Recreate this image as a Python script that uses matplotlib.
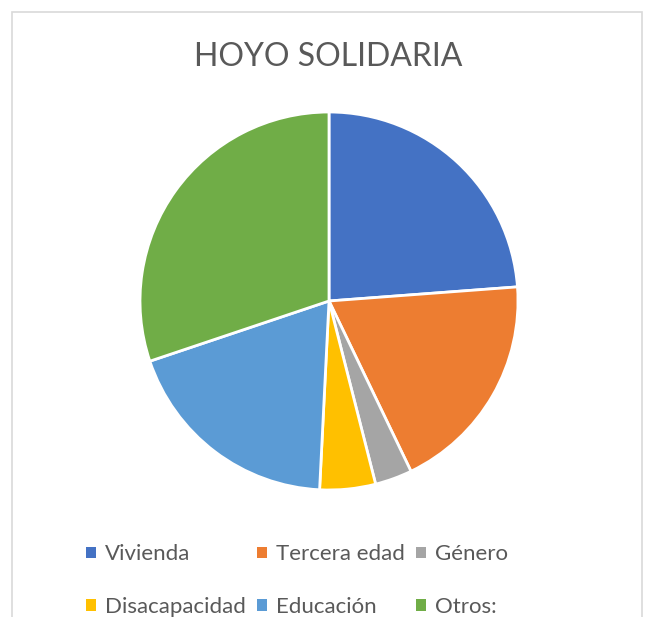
import matplotlib.pyplot as plt
from matplotlib.patches import Patch, Rectangle

# Data
categories = ['Vivienda', 'Tercera edad', 'Género', 'Disacapacidad', 'Educación', 'Otros:']
values = [15, 12, 2, 3, 12, 19]
colors = ['#4472C4', '#ED7D31', '#A5A5A5', '#FFC000', '#5B9BD5', '#70AD47']
title = 'HOYO SOLIDARIA'

plt.rcParams['font.family'] = ['Lato', 'DejaVu Sans']
text_color = '#595959'

W, H = 646, 617
fig = plt.figure(figsize=(W / 100, H / 100), dpi=100)

# chart frame (bottom edge falls outside the image)
fig.patches.append(Rectangle((11.5 / W, -0.1), 630 / W, 1.1 - 12.5 / H,
                             transform=fig.transFigure, fill=False,
                             edgecolor='#d9d9d9', linewidth=1.2))

# pie
cx, cy, r = 329, 301, 189
ax = fig.add_axes([(cx - r) / W, (H - cy - r) / H, 2 * r / W, 2 * r / H])
ax.pie(values, colors=colors, startangle=90, counterclock=False,
       wedgeprops=dict(edgecolor='white', linewidth=2))
ax.set_xlim(-1, 1)
ax.set_ylim(-1, 1)
ax.set_aspect('equal')
ax.axis('off')

fig.text(328 / W, 1 - 57 / H, title, ha='center', va='center',
         fontsize=23, color=text_color, fontweight='normal')

# legend filled row by row (matplotlib fills columns first)
handles = [Patch(facecolor=c, edgecolor='none') for c in colors]
order = [0, 3, 1, 4, 2, 5]
fig.legend([handles[i] for i in order], [categories[i] for i in order],
           loc='center left', bbox_to_anchor=(86 / W, 1 - 580.5 / H),
           ncol=3, frameon=False, fontsize=16, labelcolor=text_color,
           handlelength=0.45, handleheight=0.45, handletextpad=0.4,
           columnspacing=0.5, labelspacing=1.45, borderpad=0,
           borderaxespad=0)

fig.savefig('out.png', dpi=100)
